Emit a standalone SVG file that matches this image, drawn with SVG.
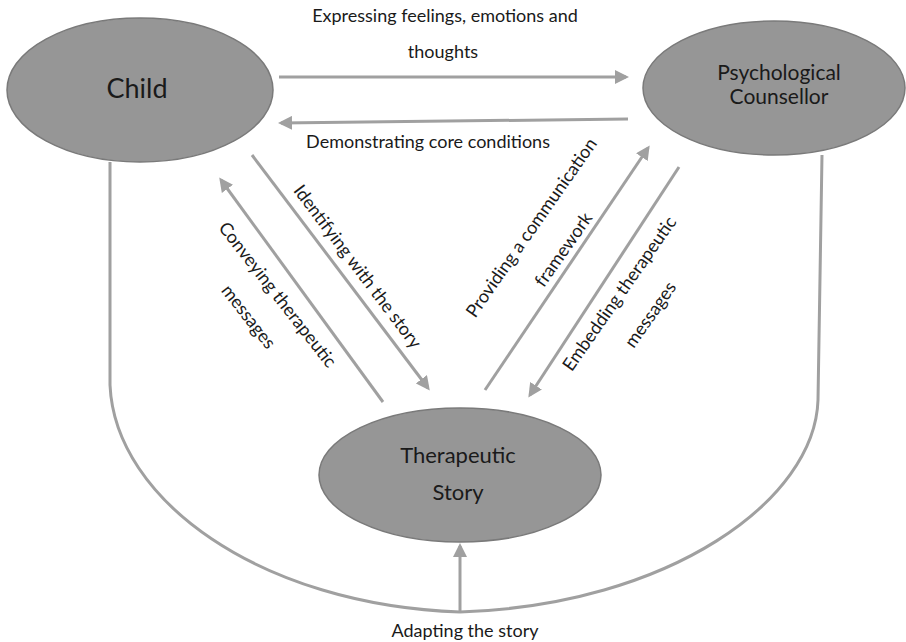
<svg xmlns="http://www.w3.org/2000/svg" width="906" height="642" viewBox="0 0 906 642">
<style>
.node ellipse{fill:#969696;stroke:#7a7a7a;stroke-width:1.5}
.nt{font-family:Lato,"Open Sans","DejaVu Sans",sans-serif;fill:#1a1a1a;text-anchor:middle}
.lbl{font-family:Lato,"Open Sans","DejaVu Sans",sans-serif;font-size:18px;fill:#1a1a1a;text-anchor:middle}
.c{fill:none;stroke:#a0a0a0;stroke-width:3}
</style>
<defs>
<marker id="ah" viewBox="0 0 14 14" refX="11" refY="7" markerWidth="14" markerHeight="14" orient="auto" markerUnits="userSpaceOnUse">
<path d="M0,0 L14,7 L0,14 z" fill="#a0a0a0"/>
</marker>
</defs>
<rect width="906" height="642" fill="#ffffff"/>
<g id="connectors">
<line class="c" x1="279" y1="77" x2="626" y2="77" marker-end="url(#ah)"/>
<line class="c" x1="628" y1="119" x2="281" y2="123" marker-end="url(#ah)"/>
<line class="c" x1="252" y1="155" x2="428" y2="388" marker-end="url(#ah)"/>
<line class="c" x1="383" y1="402" x2="221" y2="180" marker-end="url(#ah)"/>
<line class="c" x1="485" y1="390" x2="648" y2="148" marker-end="url(#ah)"/>
<line class="c" x1="679" y1="167" x2="530" y2="395" marker-end="url(#ah)"/>
<path class="c" d="M110,162 L110,385 C115,500 260,605 460,612"/>
<path class="c" d="M822,155 L818,400 C815,500 670,605 460,612"/>
<line class="c" x1="460" y1="612" x2="460" y2="546" marker-end="url(#ah)"/>
</g>
<g id="labels">
<text class="lbl" x="445" y="22">Expressing feelings, emotions and</text>
<text class="lbl" x="443" y="58">thoughts</text>
<text class="lbl" x="428" y="148">Demonstrating core conditions</text>
<text class="lbl" transform="translate(357,267) rotate(53)" dy="0.3em">Identifying with the story</text>
<text class="lbl" transform="translate(277,295) rotate(52)" dy="0.3em">Conveying therapeutic</text>
<text class="lbl" transform="translate(248,317) rotate(52)" dy="0.3em">messages</text>
<text class="lbl" transform="translate(532,228) rotate(-55)" dy="0.3em">Providing a communication</text>
<text class="lbl" transform="translate(564,250) rotate(-55)" dy="0.3em">framework</text>
<text class="lbl" transform="translate(620,294) rotate(-55)" dy="0.3em">Embedding therapeutic</text>
<text class="lbl" transform="translate(651,315) rotate(-55)" dy="0.3em">messages</text>
<text class="lbl" x="465" y="637">Adapting the story</text>
</g>
<g id="child" class="node">
<ellipse cx="140" cy="90" rx="133" ry="72"/>
<text class="nt" x="137" y="98" font-size="27">Child</text>
</g>
<g id="counsellor" class="node">
<ellipse cx="774" cy="88" rx="131" ry="67"/>
<text class="nt" x="779" y="80" font-size="21">Psychological</text>
<text class="nt" x="779" y="104" font-size="21">Counsellor</text>
</g>
<g id="story" class="node">
<ellipse cx="460" cy="475" rx="141" ry="67"/>
<text class="nt" x="458" y="463" font-size="22">Therapeutic</text>
<text class="nt" x="458" y="500" font-size="22">Story</text>
</g>
</svg>
